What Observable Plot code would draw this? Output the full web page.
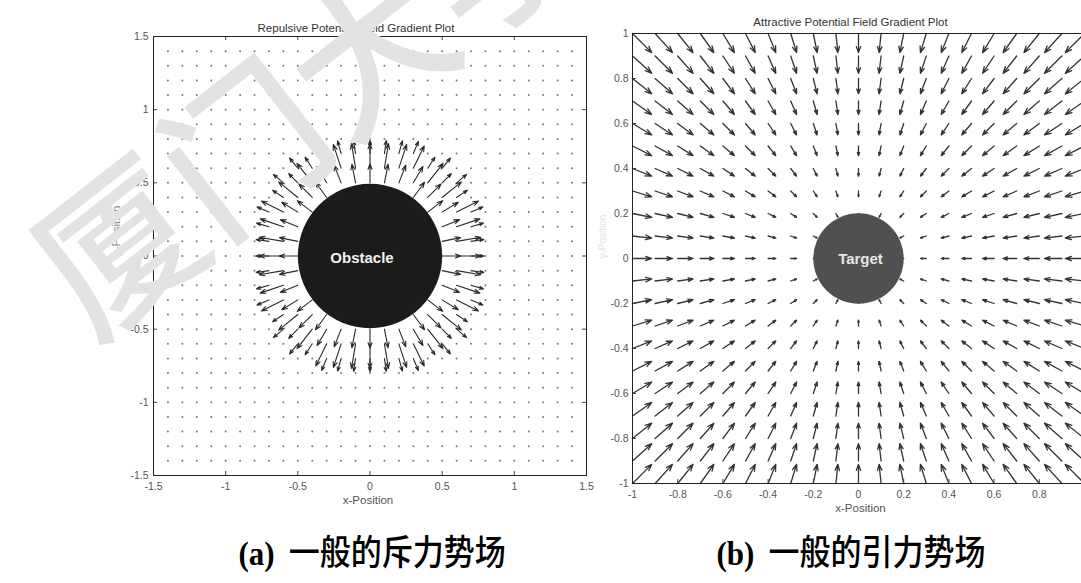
<!DOCTYPE html>
<html><head><meta charset="utf-8">
<script src="https://cdn.jsdelivr.net/npm/d3@7"></script>
<script src="https://cdn.jsdelivr.net/npm/@observablehq/plot@0.6"></script>
<style>
html,body{margin:0;padding:0;width:1081px;height:583px;overflow:hidden;background:#fff;}
#stage{position:relative;width:1081px;height:583px;overflow:hidden;}
.panel{position:absolute;top:0;}
.cap{position:absolute;top:530px;white-space:nowrap;transform:scaleY(1.12);transform-origin:center top;color:#000;line-height:36px;}
.cap .lab{font-family:"Liberation Serif","Times New Roman",serif;font-weight:bold;font-size:31px;margin-right:14px;}
.cap .zh{font-family:"Noto Sans CJK SC",sans-serif;font-size:31px;font-weight:500;}
#wm{position:absolute;left:0;top:0;font-family:"Noto Sans CJK SC",sans-serif;font-size:160px;font-weight:500;color:#e3e3e3;white-space:nowrap;transform-origin:0 0;pointer-events:none;line-height:1;}
</style></head><body><div id="stage"></div>
<script>
// ---------- data ----------
const titles = ["Repulsive Potential Field Gradient Plot", "Attractive Potential Field Gradient Plot"];
const axisLabels = ["x-Position", "y-Position"];
const captionTags = ["(a)", "(b)"];
const captionTexts = ["一般的斥力势场", "一般的引力势场"];
const watermark = "厦门大学";

// repulsive panel
const repTicks = [-1.5, -1, -0.5, 0, 0.5, 1, 1.5];
const repGrid = [-1.4,-1.3,-1.2,-1.1,-1,-0.9,-0.8,-0.7,-0.6,-0.5,-0.4,-0.3,-0.2,-0.1,0,0.1,0.2,0.3,0.4,0.5,0.6,0.7,0.8,0.9,1,1.1,1.2,1.3,1.4];
const repRingEdges = [0.5, 0.6, 0.7, 0.8];      // distance from obstacle centre
const repRingLengths = [0.13, 0.17, 0.09];      // arrow length read in each ring
const obstacle = [{x: 0, y: 0, radius: 0.5, label: "Obstacle"}];

// attractive panel
const attTicks = [-1, -0.8, -0.6, -0.4, -0.2, 0, 0.2, 0.4, 0.6, 0.8, 1];
const attGrid = [-1,-0.9,-0.8,-0.7,-0.6,-0.5,-0.4,-0.3,-0.2,-0.1,0,0.1,0.2,0.3,0.4,0.5,0.6,0.7,0.8,0.9,1];
const attU = [0.085,0.077,0.068,0.06,0.051,0.043,0.034,0.026,0.017,0.009,0,-0.009,-0.017,-0.026,-0.034,-0.043,-0.051,-0.06,-0.068,-0.077,-0.085]; // per column
const attV = [0.085,0.077,0.068,0.06,0.051,0.043,0.034,0.026,0.017,0.009,0,-0.009,-0.017,-0.026,-0.034,-0.043,-0.051,-0.06,-0.068,-0.077,-0.085]; // per row
const target = [{x: 0, y: 0, radius: 0.2, label: "Target"}];

// ---------- tables ----------
const eps = 1e-9;
const repField = [];
for (const x of repGrid) for (const y of repGrid) {
  const r = Math.hypot(x, y);
  if (r < repRingEdges[0] - eps) continue; // hidden by the obstacle disc
  let len = 0;
  for (let i = 0; i < repRingLengths.length; i++)
    if (r >= repRingEdges[i] - eps && r < repRingEdges[i + 1] - eps) len = repRingLengths[i];
  repField.push({x, y, u: len * x / r, v: len * y / r, len});
}
const attField = [];
attGrid.forEach((x, i) => attGrid.forEach((y, j) => attField.push({x, y, u: attU[i], v: attV[j]})));

const fmt = d => String(d);
const baseStyle = {background: "transparent", fontFamily: "'Liberation Sans', Arial, sans-serif", fontSize: "10.5px", color: "#555", overflow: "visible"};
const stage = document.getElementById("stage");

// ---------- left panel ----------
{
  const W = 600, H = 520, ml = 153, mr = 14, mt = 36, mb = 45;
  const iw = W - ml - mr, ih = H - mt - mb;
  const rPx = obstacle[0].radius * iw / (repTicks[repTicks.length - 1] - repTicks[0]);
  const chart = Plot.plot({
    width: W, height: H, marginLeft: ml, marginRight: mr, marginTop: mt, marginBottom: mb,
    style: baseStyle,
    x: {domain: [repTicks[0], repTicks[repTicks.length - 1]], ticks: repTicks, tickFormat: fmt, tickSize: 0, tickPadding: 7, label: null},
    y: {domain: [repTicks[0], repTicks[repTicks.length - 1]], ticks: repTicks, tickFormat: fmt, tickSize: 0, tickPadding: 5, label: null},
    marks: [
      Plot.dot(repField.filter(d => d.len === 0), {x: "x", y: "y", r: 1, fill: "#777", stroke: null}),
      Plot.arrow(repField.filter(d => d.len > 0), {x1: "x", y1: "y", x2: d => d.x + d.u, y2: d => d.y + d.v, stroke: "#2a2a2a", strokeWidth: 1.1, headLength: 8, headAngle: 40}),
      Plot.dot(obstacle, {x: "x", y: "y", r: rPx, fill: "#1b1b1b", stroke: null}),
      Plot.text(obstacle, {x: "x", y: "y", text: "label", fill: "#f2f2f2", fontWeight: "bold", fontSize: 15, dx: -8, dy: 2}),
      Plot.tickX(repTicks, {x: d => d, insetTop: ih - 4, stroke: "#444"}),
      Plot.tickX(repTicks, {x: d => d, insetBottom: ih - 4, stroke: "#444"}),
      Plot.tickY(repTicks, {y: d => d, insetRight: iw - 4, stroke: "#444"}),
      Plot.tickY(repTicks, {y: d => d, insetLeft: iw - 4, stroke: "#444"}),
      Plot.frame({stroke: "#222", strokeWidth: 1}),
      Plot.text([titles[0]], {text: d => d, frameAnchor: "top", dy: -13, dx: -14, fontSize: 11.5, fill: "#333"}),
      Plot.text([axisLabels[0]], {text: d => d, frameAnchor: "bottom", dy: 28, dx: -2, fontSize: 11.5, fill: "#555"}),
      Plot.text([axisLabels[1]], {text: d => d, frameAnchor: "left", dx: -37, rotate: -90, fontSize: 11.5, fill: "#888"})
    ]
  });
  chart.classList.add("panel");
  chart.style.left = "0px";
  stage.appendChild(chart);
}

// ---------- right panel ----------
{
  const W = 484, H = 530, ml = 32, mr = 0, mt = 33, mb = 47;
  const iw = W - ml - mr, ih = H - mt - mb;
  const rPx = target[0].radius * iw / (attTicks[attTicks.length - 1] - attTicks[0]);
  const chart = Plot.plot({
    width: W, height: H, marginLeft: ml, marginRight: mr, marginTop: mt, marginBottom: mb,
    style: baseStyle,
    x: {domain: [attTicks[0], attTicks[attTicks.length - 1]], ticks: attTicks, tickFormat: fmt, tickSize: 0, tickPadding: 7, label: null},
    y: {domain: [attTicks[0], attTicks[attTicks.length - 1]], ticks: attTicks, tickFormat: fmt, tickSize: 0, tickPadding: 4, label: null},
    marks: [
      Plot.arrow(attField, {x1: "x", y1: "y", x2: d => d.x + d.u, y2: d => d.y + d.v, stroke: "#333", strokeWidth: 1.3, headLength: 8, headAngle: 40}),
      Plot.dot(target, {x: "x", y: "y", r: rPx, fill: "#505050", stroke: null}),
      Plot.text(target, {x: "x", y: "y", text: "label", fill: "#e6e6e6", fontWeight: "bold", fontSize: 15, dx: 2, dy: 1}),
      Plot.tickX(attTicks, {x: d => d, insetTop: ih - 4, stroke: "#444"}),
      Plot.tickY(attTicks, {y: d => d, insetRight: iw - 4, stroke: "#444"}),
      Plot.frame({stroke: "#222", strokeWidth: 1}),
      Plot.text([titles[1]], {text: d => d, frameAnchor: "top", dy: -16, dx: -8, fontSize: 11.5, fill: "#333"}),
      Plot.text([axisLabels[0]], {text: d => d, frameAnchor: "bottom", dy: 28, dx: 2, fontSize: 11.5, fill: "#555"}),
      Plot.text([axisLabels[1]], {text: d => d, frameAnchor: "left", dx: -30, rotate: -90, fontSize: 10, fill: "#e2e2e2"})
    ]
  });
  chart.classList.add("panel");
  chart.style.left = "600px";
  stage.appendChild(chart);
}

// ---------- captions ----------
[[372, 0], [851, 1]].forEach(([cx, i]) => {
  const d = document.createElement("div");
  d.className = "cap";
  d.innerHTML = `<span class="lab">${captionTags[i]}</span><span class="zh">${captionTexts[i]}</span>`;
  stage.appendChild(d);
  d.style.left = (cx - d.offsetWidth / 2) + "px";
});

// ---------- watermark ----------
const wm = document.createElement("div");
wm.id = "wm";
wm.textContent = watermark;
wm.style.transform = "translate(0px, 225px) rotate(-38deg)";
stage.appendChild(wm);
</script>
</body></html>
